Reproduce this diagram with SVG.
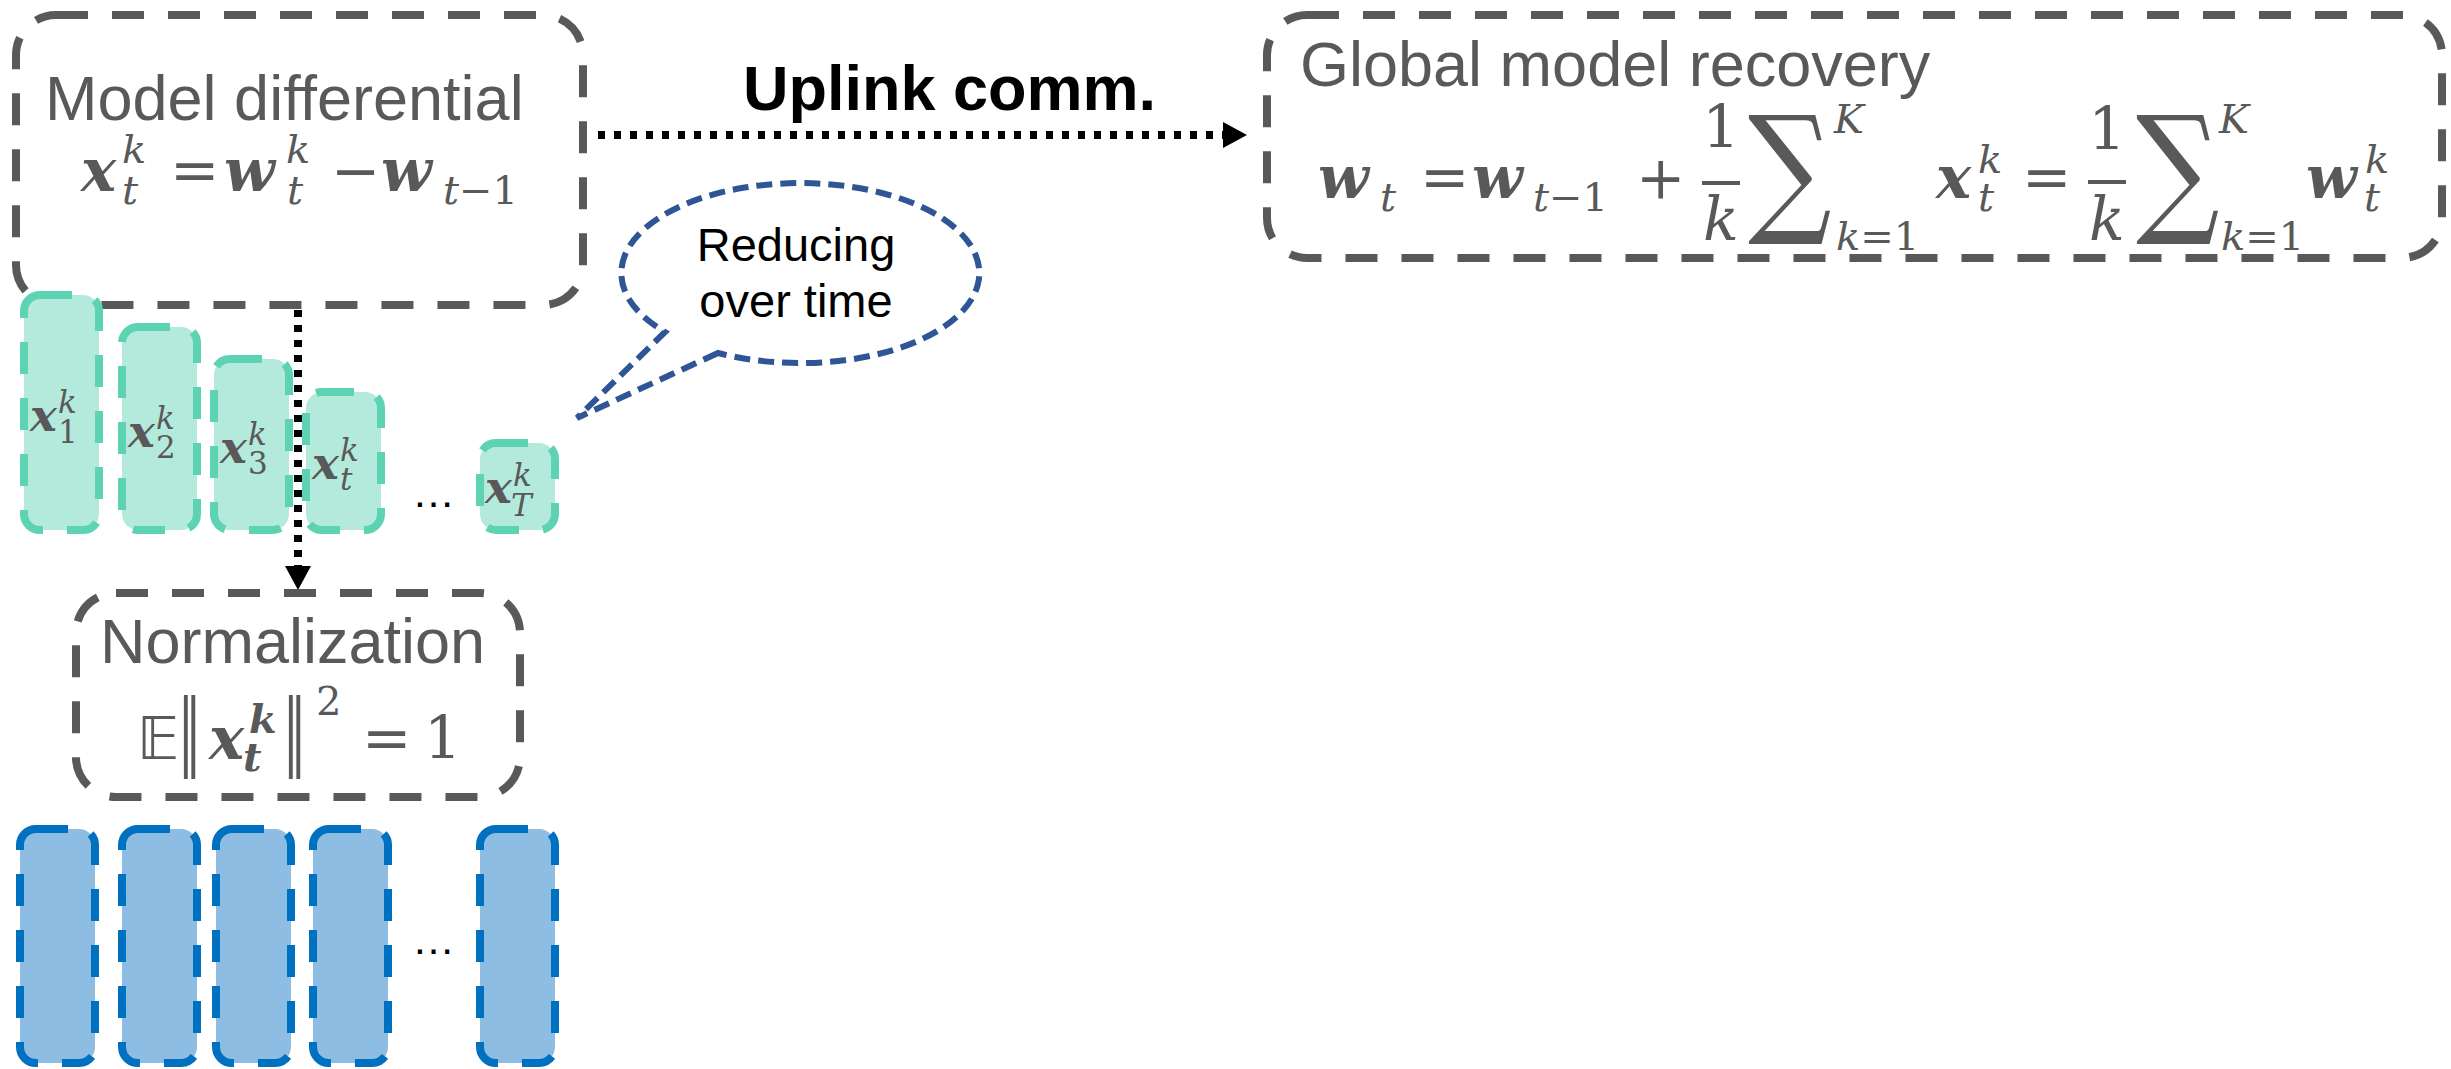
<svg xmlns="http://www.w3.org/2000/svg" width="2451" height="1069" viewBox="0 0 2451 1069">
  <defs>
    <style>
      .box { fill: none; stroke: #595959; stroke-width: 8; stroke-dasharray: 32 24; }
      .grn { fill: #b4eadb; stroke: #5dd3b3; stroke-width: 8; stroke-dasharray: 32 24; }
      .blu { fill: #8dbde2; stroke: #0070c0; stroke-width: 8; stroke-dasharray: 32 24; }
      .title { font-family: "Liberation Sans", Arial, sans-serif; font-size: 63px; fill: #595959; }
      .m { font-family: "DejaVu Serif", "Liberation Serif", serif; font-size: 59px; fill: #595959; }
      .ms { font-size: 40px; }
      .sig { font-family: "DejaVu Serif", "Liberation Serif", serif; font-size: 136px; fill: #595959; }
      .lim { font-family: "DejaVu Serif", "Liberation Serif", serif; font-size: 40px; fill: #595959; font-style: italic; }
      .up { font-style: normal; }
      .bi { font-weight: bold; font-style: italic; }
      .it { font-style: italic; }
      .lbl { font-family: "DejaVu Serif", "Liberation Serif", serif; font-size: 45px; fill: #595959; }
      .sc { font-size: 31px; }
      .dots { font-family: "Liberation Sans", Arial, sans-serif; font-size: 43px; fill: #000; }
      .conn { fill: none; stroke: #000; stroke-width: 8; }
      .bar { fill: #595959; }
    </style>
    <marker id="head" markerUnits="userSpaceOnUse" markerWidth="26" markerHeight="28" refX="0" refY="13" orient="auto">
      <path d="M0,0 L24,13 L0,26 Z" fill="#000"/>
    </marker>
  </defs>
  <rect width="2451" height="1069" fill="#fff"/>

  <!-- connectors -->
  <g id="connectors">
    <line class="conn" x1="598" y1="135" x2="1223" y2="135" stroke-dasharray="7 9" marker-end="url(#head)"/>
    <line class="conn" x1="298" y1="310" x2="298" y2="566" stroke-dasharray="7 8" marker-end="url(#head)"/>
  </g>

  <!-- link label -->
  <g id="uplink-label">
    <text x="743" y="110" font-family="'Liberation Sans', Arial, sans-serif" font-size="63" font-weight="bold" fill="#000">Uplink comm.</text>
  </g>

  <!-- local model differential -->
  <g id="model-differential">
    <rect class="box" x="16" y="15" width="567" height="290" rx="40"/>
    <text class="title" x="45" y="120">Model differential</text>
    <text class="m" y="191"><tspan class="bi" x="81">x</tspan><tspan class="ms it" x="122" y="163">k</tspan><tspan class="ms it" x="122" y="204">t</tspan><tspan x="170" y="191">=</tspan><tspan class="bi" x="224">w</tspan><tspan class="ms it" x="286" y="163">k</tspan><tspan class="ms it" x="287" y="204">t</tspan><tspan x="331" y="191">−</tspan><tspan class="bi" x="381">w</tspan><tspan class="ms it" x="443" y="204">t<tspan class="up">−1</tspan></tspan></text>
  </g>

  <!-- global model recovery -->
  <g id="global-recovery">
    <rect class="box" x="1267" y="15" width="1175" height="243" rx="40"/>
    <text class="title" x="1300" y="86">Global model recovery</text>
    <text class="m" y="198"><tspan class="bi" x="1318">w</tspan><tspan class="ms it" x="1380" y="211">t</tspan><tspan x="1420" y="198">=</tspan><tspan class="bi" x="1472">w</tspan><tspan class="ms it" x="1533" y="211">t<tspan class="up">−1</tspan></tspan><tspan x="1636" y="198">+</tspan></text>
    <text class="m" x="1721" y="148" text-anchor="middle">1</text>
    <rect class="bar" x="1702" y="181" width="38" height="4"/>
    <text class="m it" x="1721" y="240" text-anchor="middle">k</text>
    <text class="sig" transform="translate(1748 217) scale(0.86 1.04)">∑</text>
    <text class="lim" x="1834" y="133">K</text>
    <text class="lim" x="1836" y="250">k<tspan class="up">=1</tspan></text>
    <text class="m" y="198"><tspan class="bi" x="1936">x</tspan><tspan class="ms it" x="1978" y="173">k</tspan><tspan class="ms it" x="1978" y="211">t</tspan><tspan x="2022" y="198">=</tspan></text>
    <text class="m" x="2107" y="150" text-anchor="middle">1</text>
    <rect class="bar" x="2088" y="180" width="38" height="4"/>
    <text class="m it" x="2107" y="240" text-anchor="middle">k</text>
    <text class="sig" transform="translate(2136 217) scale(0.86 1.04)">∑</text>
    <text class="lim" x="2219" y="133">K</text>
    <text class="lim" x="2221" y="250">k<tspan class="up">=1</tspan></text>
    <text class="m" y="198"><tspan class="bi" x="2306">w</tspan><tspan class="ms it" x="2365" y="173">k</tspan><tspan class="ms it" x="2364" y="211">t</tspan></text>
  </g>

  <!-- callout -->
  <g id="callout">
    <path d="M718 353 L577 418 L665 332 A179 90 0 1 1 718 353 Z" fill="#fff" stroke="#2f5597" stroke-width="6" stroke-dasharray="16 8"/>
    <text x="796" y="261" text-anchor="middle" font-family="'Liberation Sans', Arial, sans-serif" font-size="47" fill="#000">Reducing</text>
    <text x="796" y="317" text-anchor="middle" font-family="'Liberation Sans', Arial, sans-serif" font-size="47" fill="#000">over time</text>
  </g>

  <!-- per-round differentials -->
  <g id="differentials">
    <g id="diff-1">
      <rect class="grn" x="24" y="295" width="75" height="235" rx="16"/>
      <text class="lbl" y="431"><tspan class="bi" x="30">x</tspan><tspan class="sc it" x="58" y="413">k</tspan><tspan class="sc" x="58" y="443">1</tspan></text>
    </g>
    <g id="diff-2">
      <rect class="grn" x="122" y="327" width="75" height="203" rx="16"/>
      <text class="lbl" y="447"><tspan class="bi" x="128">x</tspan><tspan class="sc it" x="156" y="429">k</tspan><tspan class="sc" x="156" y="458">2</tspan></text>
    </g>
    <g id="diff-3">
      <rect class="grn" x="214" y="359" width="75" height="171" rx="16"/>
      <text class="lbl" y="463"><tspan class="bi" x="220">x</tspan><tspan class="sc it" x="248" y="445">k</tspan><tspan class="sc" x="248" y="474">3</tspan></text>
    </g>
    <g id="diff-t">
      <rect class="grn" x="306" y="392" width="75" height="138" rx="16"/>
      <text class="lbl" y="479"><tspan class="bi" x="312">x</tspan><tspan class="sc it" x="340" y="461">k</tspan><tspan class="sc it" x="340" y="490">t</tspan></text>
    </g>
    <text class="dots" x="412" y="507">…</text>
    <g id="diff-T">
      <rect class="grn" x="480" y="443" width="75" height="87" rx="16"/>
      <text class="lbl" y="503"><tspan class="bi" x="485">x</tspan><tspan class="sc it" x="513" y="486">k</tspan><tspan class="sc it" x="511" y="516">T</tspan></text>
    </g>
  </g>

  <!-- normalization -->
  <g id="normalization">
    <rect class="box" x="76" y="593" width="444" height="204" rx="40"/>
    <text class="title" x="100" y="663">Normalization</text>
    <text x="137" y="759" font-family="'DejaVu Sans', sans-serif" font-size="58" fill="#595959">𝔼</text>
    <text font-family="'DejaVu Sans', sans-serif" font-size="58" fill="#595959" transform="translate(178 759) scale(0.8 1.45)">‖</text>
    <text class="m" y="759"><tspan class="bi" x="209">x</tspan><tspan class="ms bi" x="249" y="733">k</tspan><tspan class="ms bi" x="243" y="771">t</tspan></text>
    <text font-family="'DejaVu Sans', sans-serif" font-size="58" fill="#595959" transform="translate(283 759) scale(0.8 1.45)">‖</text>
    <text class="m" y="759"><tspan class="ms" x="316" y="715">2</tspan><tspan x="362" y="759">=</tspan><tspan x="424">1</tspan></text>
  </g>

  <!-- normalized differentials -->
  <g id="normalized">
    <rect id="norm-1" class="blu" x="20" y="829" width="75" height="234" rx="16"/>
    <rect id="norm-2" class="blu" x="122" y="829" width="75" height="234" rx="16"/>
    <rect id="norm-3" class="blu" x="216" y="829" width="75" height="234" rx="16"/>
    <rect id="norm-t" class="blu" x="313" y="829" width="75" height="234" rx="16"/>
    <text class="dots" x="412" y="954">…</text>
    <rect id="norm-T" class="blu" x="480" y="829" width="75" height="234" rx="16"/>
  </g>
</svg>
